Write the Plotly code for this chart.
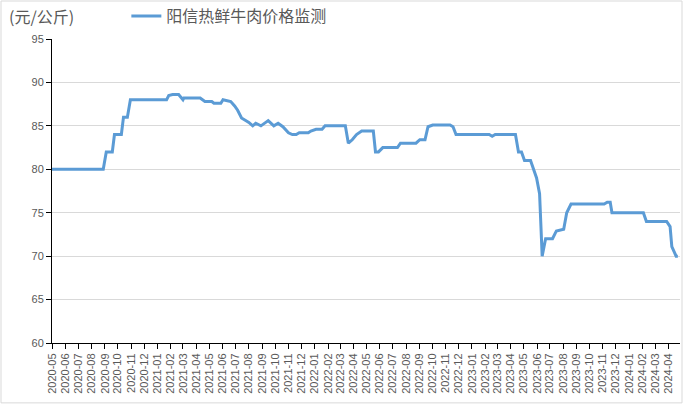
import plotly.graph_objects as go

series_name = "阳信热鲜牛肉价格监测"
unit_label = "(元/公斤)"

dates = [
    "2020-05-01", "2020-08-28", "2020-09-04", "2020-09-18", "2020-09-23", "2020-10-09",
    "2020-10-14", "2020-10-23", "2020-10-30", "2021-01-22", "2021-01-27", "2021-02-05",
    "2021-02-19", "2021-03-01", "2021-03-03", "2021-04-10", "2021-04-21", "2021-05-07",
    "2021-05-12", "2021-05-28", "2021-06-02", "2021-06-20", "2021-06-29", "2021-07-06",
    "2021-07-15", "2021-08-01", "2021-08-10", "2021-08-17", "2021-08-29", "2021-09-15",
    "2021-09-28", "2021-10-08", "2021-10-19", "2021-11-01", "2021-11-10", "2021-11-19",
    "2021-11-26", "2021-12-17", "2021-12-23", "2022-01-04", "2022-01-18", "2022-01-25",
    "2022-03-13", "2022-03-20", "2022-03-29", "2022-04-08", "2022-04-20", "2022-05-17",
    "2022-05-22", "2022-05-29", "2022-06-08", "2022-07-12", "2022-07-19", "2022-08-24",
    "2022-09-02", "2022-09-14", "2022-09-21", "2022-10-02", "2022-11-11", "2022-11-18",
    "2022-11-25", "2023-02-10", "2023-02-17", "2023-02-24", "2023-04-12", "2023-04-19",
    "2023-04-26", "2023-05-03", "2023-05-17", "2023-05-24", "2023-05-31", "2023-06-07",
    "2023-06-13", "2023-06-21", "2023-07-07", "2023-07-16", "2023-07-26", "2023-08-02",
    "2023-08-09", "2023-08-19", "2023-11-04", "2023-11-11", "2023-11-18", "2023-11-22",
    "2024-02-03", "2024-02-10", "2024-03-28", "2024-04-05", "2024-04-09", "2024-04-19",
    "2024-04-23",
]
prices = [
    80.0, 80.0, 82.0, 82.0, 84.0, 84.0,
    86.0, 86.0, 88.0, 88.0, 88.5, 88.6,
    88.6, 88.0, 88.2, 88.2, 87.8, 87.8,
    87.6, 87.6, 88.0, 87.8, 87.3, 86.8,
    85.9, 85.4, 85.0, 85.3, 85.0, 85.6,
    85.0, 85.3, 84.9, 84.2, 84.0, 84.0,
    84.2, 84.2, 84.4, 84.6, 84.6, 85.0,
    85.0, 83.0, 83.4, 84.0, 84.4, 84.4,
    82.0, 82.0, 82.5, 82.5, 83.0, 83.0,
    83.4, 83.4, 84.9, 85.1, 85.1, 84.9,
    84.0, 84.0, 83.8, 84.0, 84.0, 82.0,
    82.0, 81.0, 81.0, 80.0, 79.0, 77.2,
    70.0, 72.0, 72.0, 72.9, 73.0, 73.1,
    75.0, 76.0, 76.0, 76.2, 76.2, 75.0,
    75.0, 74.0, 74.0, 73.4, 71.1, 70.0,
    70.0,
]

month_ticks = []
for y in range(2020, 2025):
    for m in range(1, 13):
        if (y == 2020 and m < 5) or (y == 2024 and m > 4):
            continue
        month_ticks.append(f"{y}-{m:02d}")
tick_vals = [t + "-01" for t in month_ticks]

y_ticks = [60, 65, 70, 75, 80, 85, 90, 95]

fig = go.Figure()
fig.add_trace(go.Scatter(
    x=dates, y=prices, mode="lines", name=series_name,
    line=dict(color="#5b9bd5", width=3),
))

font_cjk = "Noto Sans CJK SC"
tick_font = dict(size=11, color="#595959", family="Liberation Sans")
fig.update_layout(
    width=683, height=405,
    margin=dict(l=52, r=3, t=39, b=62, autoexpand=False),
    paper_bgcolor="white", plot_bgcolor="white",
    font=dict(family=font_cjk, color="#595959"),
    showlegend=True,
    legend=dict(orientation="h", xref="container", yref="container",
                x=0.185, y=0.960, xanchor="left", yanchor="middle",
                font=dict(size=16, color="#595959", family=font_cjk),
                bgcolor="rgba(0,0,0,0)"),
    xaxis=dict(
        type="date", range=["2020-05-01", "2024-04-28"],
        tickvals=tick_vals, ticktext=month_ticks, tickangle=-90,
        tickfont=tick_font,
        ticks="outside", ticklen=5, tickcolor="black",
        showline=True, linecolor="black", linewidth=1,
        showgrid=False, zeroline=False, automargin=False,
    ),
    yaxis=dict(
        range=[60, 95], tickvals=y_ticks,
        tickfont=tick_font,
        ticks="outside", ticklen=5, tickcolor="black",
        showline=True, linecolor="black", linewidth=1,
        showgrid=True, gridcolor="#d9d9d9", gridwidth=1, zeroline=False,
        automargin=False,
    ),
    annotations=[dict(
        text=unit_label, xref="paper", yref="paper", x=-0.0717, y=1.0757,
        xanchor="left", yanchor="middle", showarrow=False,
        font=dict(size=16, color="#595959", family=font_cjk),
    )],
    shapes=[dict(
        type="rect", xref="paper", yref="paper",
        x0=-0.0812, x1=1.0032, y0=-0.197, y1=1.125,
        line=dict(color="#d9d9d9", width=1), fillcolor="rgba(0,0,0,0)", layer="below",
    )],
)

fig.write_html("out.html", config={"displayModeBar": False},
               post_script="document.body.style.margin='0';")
